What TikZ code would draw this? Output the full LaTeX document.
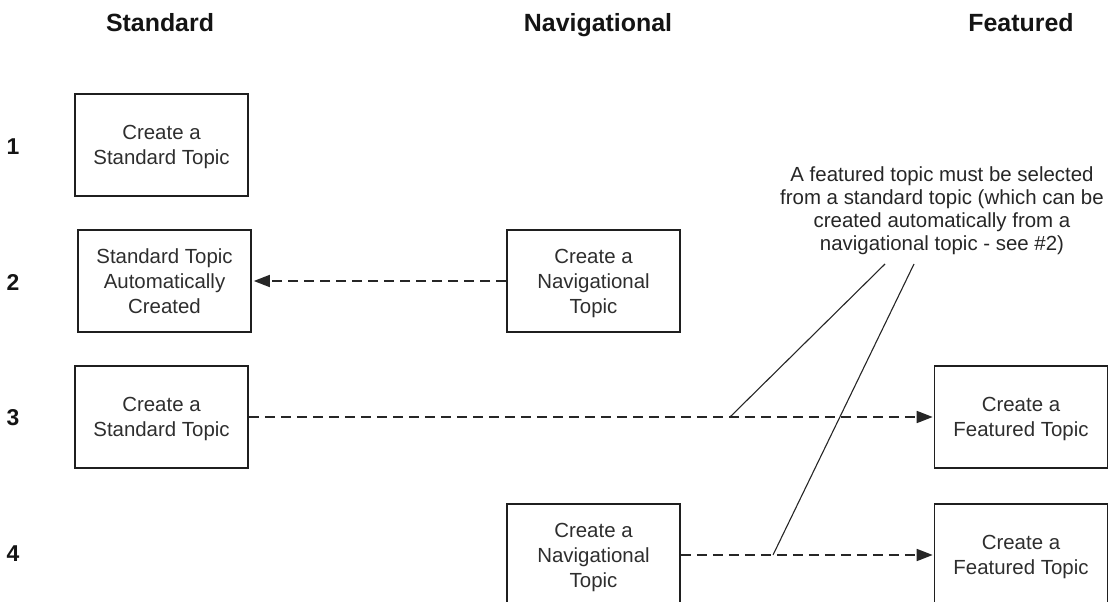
\documentclass[tikz,border=0pt]{standalone}
\usepackage{fontspec}
\setmainfont{Liberation Sans}
\usetikzlibrary{arrows.meta}
\begin{document}
\begin{tikzpicture}[x=1bp, y=-1bp,
  stepbox/.style={draw=black!88, line width=1.6bp, minimum width=173bp,
    minimum height=102bp, inner sep=0pt, align=center, text depth=0pt,
    font=\fontsize{20.5}{25}\selectfont, text=black!82},
  header/.style={anchor=base, font=\fontsize{25}{30}\selectfont\bfseries, text=black!92},
  rowlabel/.style={font=\fontsize{23}{28}\selectfont\bfseries, text=black!92},
  flow/.style={draw=black!85, line width=1.7bp, dash pattern=on 10bp off 6bp,
    -{Triangle[length=16bp,width=12bp]}},
  note/.style={align=center, inner sep=0pt,
    font=\fontsize{20.5}{23}\selectfont, text=black!85},
  pointer/.style={draw=black!85, line width=1.1bp}]
\useasboundingbox (0,0) rectangle (1118,602);

% column headers
\node[header] (hstd) at (160,32) {Standard};
\node[header] (hnav) at (598,32) {Navigational};
\node[header] (hfeat) at (1021,32) {Featured};

% row numbers
\node[rowlabel] (r1) at (13,147) {1};
\node[rowlabel] (r2) at (13,283) {2};
\node[rowlabel] (r3) at (13,418) {3};
\node[rowlabel] (r4) at (13,554) {4};

% steps
\node[stepbox] (s1) at (161.5,145) {Create a\\Standard Topic};
\node[stepbox] (s2) at (164.5,281) {Standard Topic\\Automatically\\Created};
\node[stepbox] (n2) at (593.5,281) {Create a\\Navigational\\Topic};
\node[stepbox] (s3) at (161.5,417) {Create a\\Standard Topic};
\node[stepbox] (f3) at (1021,417) {Create a\\Featured Topic};
\node[stepbox] (n4) at (593.5,555) {Create a\\Navigational\\Topic};
\node[stepbox] (f4) at (1021,555) {Create a\\Featured Topic};

% flows between steps
\draw[flow, shorten >=2bp] (n2.west) -- (s2.east);
\draw[flow, shorten >=1bp] (s3.east) -- (f3.west);
\draw[flow, shorten >=1bp] (n4.east) -- (f4.west);

% annotation and its pointers
\node[note, anchor=north] (note) at (942,167)
  {A featured topic must be selected\\from a standard topic (which can be\\created automatically from a\\navigational topic - see \#2)};
\coordinate (p1) at (885,264);
\coordinate (p2) at (914,264);
\coordinate (q1) at (730,417);
\coordinate (q2) at (773,555);
\draw[pointer] (p1) -- (q1);
\draw[pointer] (p2) -- (q2);
\end{tikzpicture}
\end{document}
